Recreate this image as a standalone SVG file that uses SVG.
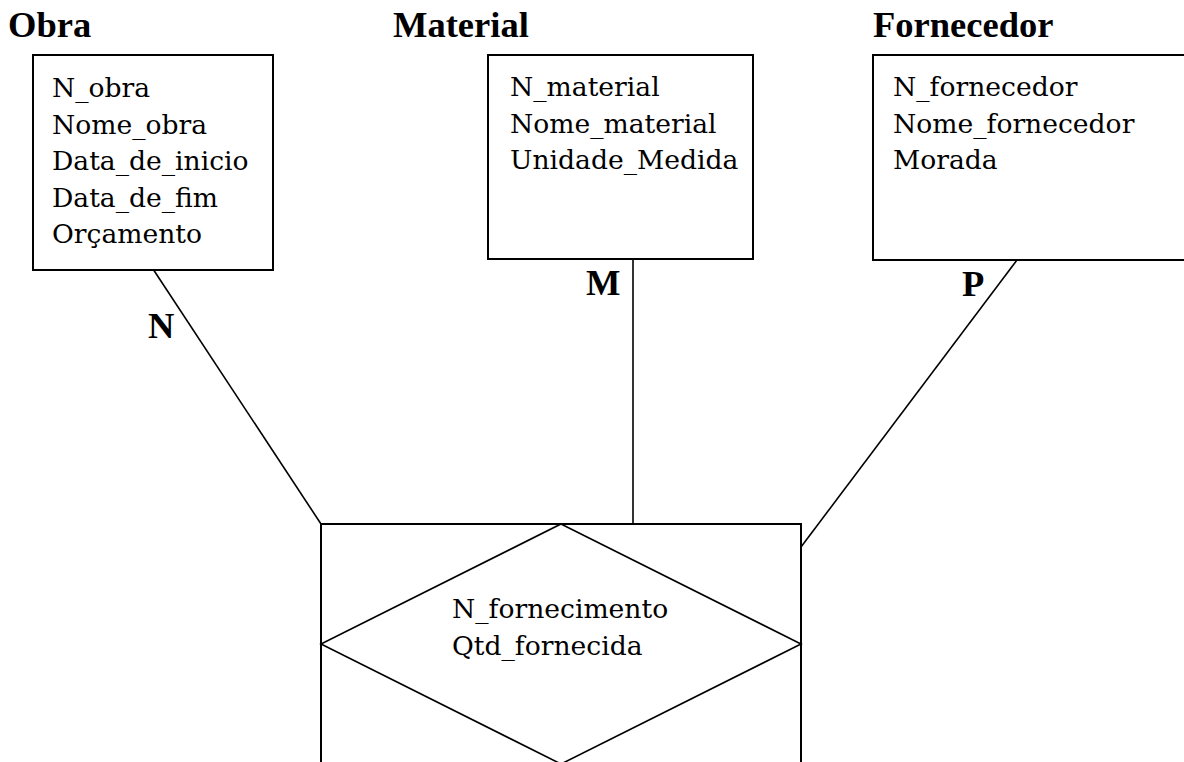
<svg xmlns="http://www.w3.org/2000/svg" width="1184" height="762" viewBox="0 0 1184 762">
<style>
.box{fill:#fff;stroke:#000;stroke-width:2}
.ln{stroke:#000;stroke-width:1.6;fill:none}
.t{font-family:'DejaVu Serif',serif;font-size:26.6px;fill:#000}
.b{font-family:'Liberation Serif','Times New Roman',serif;font-size:36.5px;font-weight:700;fill:#000}
</style>
<rect width="1184" height="762" fill="#fff"/>
<g id="connectors">
<line class="ln" x1="153" y1="269" x2="321" y2="524"/>
<line class="ln" x1="633" y1="259" x2="633" y2="524"/>
<line class="ln" x1="1017" y1="260" x2="801" y2="547"/>
</g>
<g id="obra">
<text class="b" x="8" y="37">Obra</text>
<rect class="box" x="33" y="55" width="240" height="215"/>
<text class="t" x="52" y="97">N_obra</text>
<text class="t" x="52" y="134">Nome_obra</text>
<text class="t" x="52" y="170">Data_de_inicio</text>
<text class="t" x="52" y="207">Data_de_fim</text>
<text class="t" x="52" y="243">Orçamento</text>
</g>
<g id="material">
<text class="b" x="393" y="37">Material</text>
<rect class="box" x="488" y="55" width="265" height="204"/>
<text class="t" x="510" y="96">N_material</text>
<text class="t" x="510" y="133">Nome_material</text>
<text class="t" x="510" y="169">Unidade_Medida</text>
</g>
<g id="fornecedor">
<text class="b" x="873" y="37">Fornecedor</text>
<rect class="box" x="873" y="55" width="320" height="205"/>
<text class="t" x="893" y="96">N_fornecedor</text>
<text class="t" x="893" y="133">Nome_fornecedor</text>
<text class="t" x="893" y="169">Morada</text>
</g>
<g id="fornecimento">
<rect class="box" x="321" y="524" width="480" height="250"/>
<polygon class="ln" points="561,524 801,644 561,764 321,644"/>
<text class="t" x="452" y="618">N_fornecimento</text>
<text class="t" x="452" y="655">Qtd_fornecida</text>
</g>
<g id="labels">
<text class="b" x="148" y="338">N</text>
<text class="b" x="586" y="295">M</text>
<text class="b" x="962" y="296">P</text>
</g>
</svg>
